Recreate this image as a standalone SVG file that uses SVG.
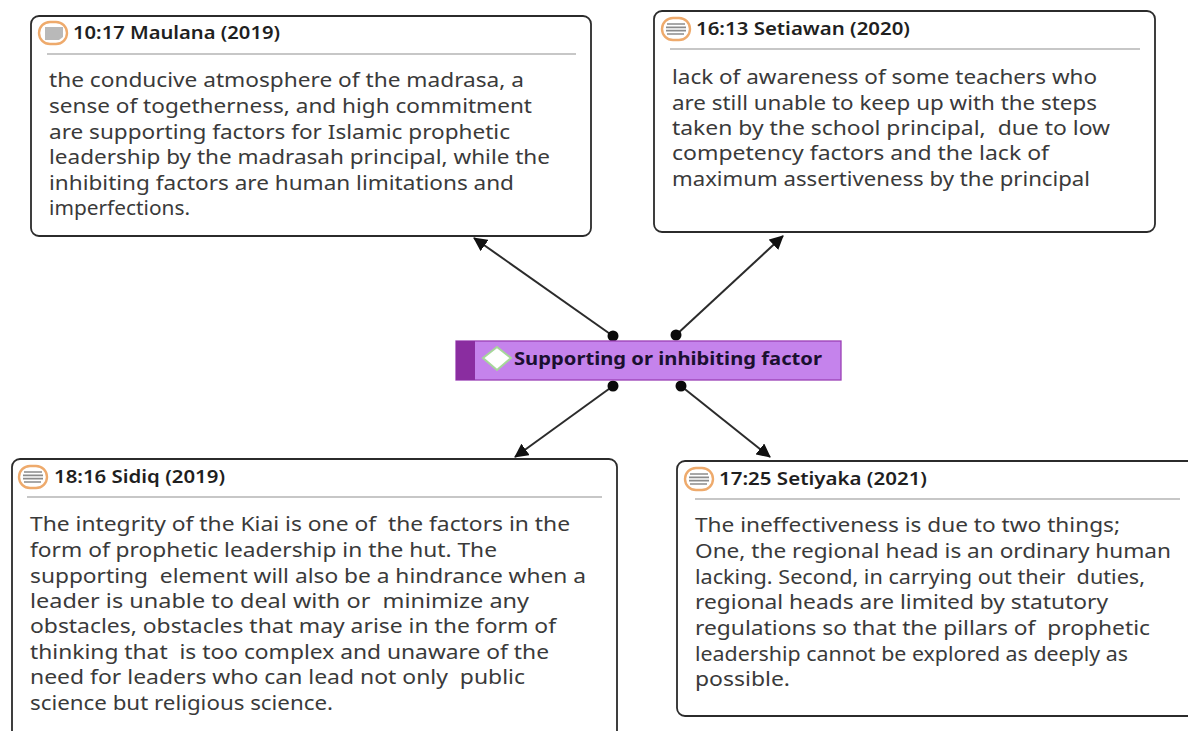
<svg xmlns="http://www.w3.org/2000/svg" width="1188" height="731" viewBox="0 0 1188 731">
<style>
text{font-family:"Noto Sans","Open Sans","DejaVu Sans",sans-serif;white-space:pre}
.box{fill:#fff;stroke:#2b2b2b;stroke-width:1.8}
.sep{stroke:#b4b4b4;stroke-width:1.3}
.title{font-size:18px;font-weight:600;fill:#1f1f1f}
.body{font-size:19px;fill:#3a3a3a}
.ring{fill:#fff;stroke:#eeaa6c;stroke-width:2.4}
.bub{fill:#b9b9b9}
.ln{stroke:#8c8c8c;stroke-width:1.7}
.conn{stroke:#2b2b2b;stroke-width:2;fill:none;marker-end:url(#arrow)}
.dot{fill:#0a0a0a}
</style>
<defs>
<marker id="arrow" markerUnits="userSpaceOnUse" markerWidth="14" markerHeight="14" refX="13" refY="7" orient="auto"><path d="M0 0L14 7L0 14Z" fill="#111"/></marker>
<g id="noteicon"><rect class="ring" x="-14" y="-11" width="28" height="22" rx="11"/><path class="ln" d="M-9-5H9M-10-1.700H10M-10 1.700H10M-9 5H8"/></g>
</defs>
<rect width="1188" height="731" fill="#fff"/>
<g id="connectors">
<line class="conn" x1="613" y1="336" x2="474" y2="238"/>
<line class="conn" x1="676" y1="335" x2="783" y2="236"/>
<line class="conn" x1="613" y1="386" x2="515" y2="457"/>
<line class="conn" x1="681" y1="386" x2="770" y2="457"/>
<circle class="dot" cx="613" cy="336" r="5.500"/>
<circle class="dot" cx="676" cy="335" r="5.500"/>
<circle class="dot" cx="613" cy="386" r="5.500"/>
<circle class="dot" cx="681" cy="386" r="5.500"/>
</g>
<g id="node-maulana">
<rect class="box" x="31" y="16" width="560" height="220" rx="8"/>
<rect class="ring" x="39" y="22" width="28" height="22" rx="11"/>
<path class="bub" d="M45 27H63V37L59 40H45Z"/>
<text class="title" x="73" y="39" textLength="207" lengthAdjust="spacingAndGlyphs">10:17 Maulana (2019)</text>
<line class="sep" x1="47" y1="54" x2="576" y2="54"/>
<text class="body" x="49" y="87" textLength="475" lengthAdjust="spacingAndGlyphs">the conducive atmosphere of the madrasa, a</text>
<text class="body" x="49" y="113" textLength="483" lengthAdjust="spacingAndGlyphs">sense of togetherness, and high commitment</text>
<text class="body" x="49" y="139" textLength="461" lengthAdjust="spacingAndGlyphs">are supporting factors for Islamic prophetic</text>
<text class="body" x="49" y="164" textLength="501" lengthAdjust="spacingAndGlyphs">leadership by the madrasah principal, while the</text>
<text class="body" x="49" y="190" textLength="465" lengthAdjust="spacingAndGlyphs">inhibiting factors are human limitations and</text>
<text class="body" x="49" y="215" textLength="141" lengthAdjust="spacingAndGlyphs">imperfections.</text>
</g>
<g id="node-setiawan">
<rect class="box" x="654" y="11" width="501" height="221" rx="8"/>
<use href="#noteicon" x="676" y="29"/>
<text class="title" x="696" y="35" textLength="214" lengthAdjust="spacingAndGlyphs">16:13 Setiawan (2020)</text>
<line class="sep" x1="670" y1="49" x2="1140" y2="49"/>
<text class="body" x="672" y="84" textLength="425" lengthAdjust="spacingAndGlyphs">lack of awareness of some teachers who</text>
<text class="body" x="672" y="110" textLength="425" lengthAdjust="spacingAndGlyphs">are still unable to keep up with the steps</text>
<text class="body" x="672" y="135" textLength="438" lengthAdjust="spacingAndGlyphs">taken by the school principal,  due to low</text>
<text class="body" x="672" y="160" textLength="377" lengthAdjust="spacingAndGlyphs">competency factors and the lack of</text>
<text class="body" x="672" y="186" textLength="418" lengthAdjust="spacingAndGlyphs">maximum assertiveness by the principal</text>
</g>
<g id="node-factor">
<rect x="456" y="341" width="385" height="39" fill="#c583ec" stroke="#9a3fb5" stroke-width="1.300"/>
<rect x="456" y="341" width="19" height="39" fill="#8a2da0"/>
<path d="M497 347L511 358L497 370L483 358Z" fill="#fff" stroke="#a6d79a" stroke-width="2"/>
<text x="514" y="365" font-size="18.500" font-weight="700" fill="#1b1030" textLength="308" lengthAdjust="spacingAndGlyphs">Supporting or inhibiting factor</text>
</g>
<g id="node-sidiq">
<path class="box" d="M12 731V467a8 8 0 0 1 8-8H609a8 8 0 0 1 8 8V731"/>
<use href="#noteicon" x="33" y="477"/>
<text class="title" x="54" y="483" textLength="171" lengthAdjust="spacingAndGlyphs">18:16 Sidiq (2019)</text>
<line class="sep" x1="27" y1="497" x2="602" y2="497"/>
<text class="body" x="30" y="531" textLength="540" lengthAdjust="spacingAndGlyphs">The integrity of the Kiai is one of  the factors in the</text>
<text class="body" x="30" y="557" textLength="467" lengthAdjust="spacingAndGlyphs">form of prophetic leadership in the hut. The</text>
<text class="body" x="30" y="583" textLength="556" lengthAdjust="spacingAndGlyphs">supporting  element will also be a hindrance when a</text>
<text class="body" x="30" y="608" textLength="499" lengthAdjust="spacingAndGlyphs">leader is unable to deal with or  minimize any</text>
<text class="body" x="30" y="633" textLength="526" lengthAdjust="spacingAndGlyphs">obstacles, obstacles that may arise in the form of</text>
<text class="body" x="30" y="659" textLength="519" lengthAdjust="spacingAndGlyphs">thinking that  is too complex and unaware of the</text>
<text class="body" x="30" y="684" textLength="495" lengthAdjust="spacingAndGlyphs">need for leaders who can lead not only  public</text>
<text class="body" x="30" y="710" textLength="303" lengthAdjust="spacingAndGlyphs">science but religious science.</text>
</g>
<g id="node-setiyaka">
<path class="box" d="M1189 461H685a8 8 0 0 0-8 8V708a8 8 0 0 0 8 8H1189"/>
<use href="#noteicon" x="699" y="479"/>
<text class="title" x="719" y="485" textLength="208" lengthAdjust="spacingAndGlyphs">17:25 Setiyaka (2021)</text>
<line class="sep" x1="695" y1="499" x2="1180" y2="499"/>
<text class="body" x="695" y="532" textLength="425" lengthAdjust="spacingAndGlyphs">The ineffectiveness is due to two things;</text>
<text class="body" x="695" y="558" textLength="476" lengthAdjust="spacingAndGlyphs">One, the regional head is an ordinary human</text>
<text class="body" x="695" y="584" textLength="450" lengthAdjust="spacingAndGlyphs">lacking. Second, in carrying out their  duties,</text>
<text class="body" x="695" y="609" textLength="413" lengthAdjust="spacingAndGlyphs">regional heads are limited by statutory</text>
<text class="body" x="695" y="635" textLength="455" lengthAdjust="spacingAndGlyphs">regulations so that the pillars of  prophetic</text>
<text class="body" x="695" y="661" textLength="433" lengthAdjust="spacingAndGlyphs">leadership cannot be explored as deeply as</text>
<text class="body" x="695" y="686" textLength="95" lengthAdjust="spacingAndGlyphs">possible.</text>
</g>
</svg>
